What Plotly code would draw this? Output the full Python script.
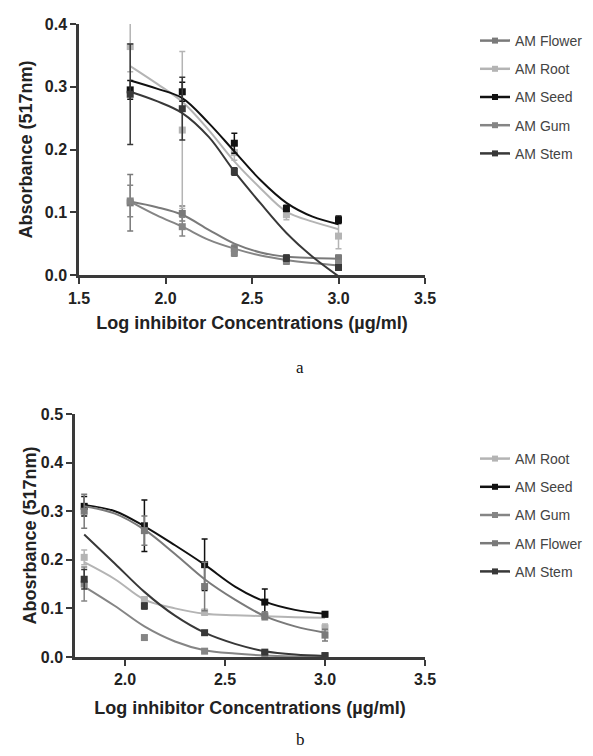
import plotly.graph_objects as go

# ---------------- data ----------------
conc_log = [1.796, 2.097, 2.398, 2.699, 3.0]
curve_x = [1.796, 1.95, 2.097, 2.25, 2.398, 2.55, 2.699, 2.85, 3.0]

x_ticks_a = [1.5, 2.0, 2.5, 3.0, 3.5]
y_ticks_a = [0.0, 0.1, 0.2, 0.3, 0.4]
x_ticks_b = [2.0, 2.5, 3.0, 3.5]
y_ticks_b = [0.0, 0.1, 0.2, 0.3, 0.4, 0.5]

# panel a (series order as in legend)
a_names = ["AM Flower", "AM Root", "AM Seed", "AM Gum", "AM Stem"]
a_flower_y = [0.115, 0.098, 0.042, 0.026, 0.027]
a_flower_err = [0.045, 0.012, 0.006, 0.005, 0.005]
a_root_y = [0.364, 0.231, 0.195, 0.096, 0.062]
a_root_err = [0.04, 0.125, 0.012, 0.008, 0.02]
a_seed_y = [0.295, 0.292, 0.21, 0.106, 0.088]
a_seed_err = [0.015, 0.015, 0.016, 0.005, 0.006]
a_gum_y = [0.118, 0.077, 0.035, 0.022, 0.018]
a_gum_err = [0.025, 0.015, 0.005, 0.005, 0.005]
a_stem_y = [0.288, 0.265, 0.165, 0.027, 0.012]
a_stem_err = [0.08, 0.05, 0.006, 0.005, 0.004]

a_flower_fit = [0.117, 0.108, 0.096, 0.072, 0.050, 0.036, 0.029, 0.027, 0.026]
a_root_fit = [0.333, 0.305, 0.276, 0.231, 0.181, 0.138, 0.101, 0.085, 0.073]
a_seed_fit = [0.310, 0.297, 0.282, 0.242, 0.197, 0.151, 0.115, 0.093, 0.081]
a_gum_fit = [0.117, 0.095, 0.077, 0.056, 0.042, 0.031, 0.024, 0.019, 0.015]
a_stem_fit = [0.292, 0.277, 0.258, 0.220, 0.165, 0.114, 0.067, 0.029, -0.002]

# panel b
b_names = ["AM Root", "AM Seed", "AM Gum", "AM Flower", "AM Stem"]
b_root_y = [0.205, 0.118, 0.092, 0.082, 0.06]
b_root_err = [0.015, 0.006, 0.006, 0.004, 0.008]
b_seed_y = [0.31, 0.27, 0.19, 0.113, 0.088]
b_seed_err = [0.02, 0.053, 0.053, 0.027, 0.005]
b_gum_y = [0.15, 0.04, 0.012, 0.005, 0.002]
b_gum_err = [0.035, 0.004, 0.003, 0.002, 0.002]
b_flower_y = [0.30, 0.26, 0.145, 0.085, 0.045]
b_flower_err = [0.035, 0.03, 0.05, 0.008, 0.012]
b_stem_y = [0.16, 0.105, 0.05, 0.01, 0.003]
b_stem_err = [0.02, 0.006, 0.004, 0.003, 0.002]

b_root_fit = [0.195, 0.16, 0.118, 0.100, 0.089, 0.086, 0.084, 0.082, 0.081]
b_seed_fit = [0.313, 0.30, 0.269, 0.23, 0.19, 0.145, 0.114, 0.097, 0.089]
b_gum_fit = [0.145, 0.105, 0.063, 0.032, 0.014, 0.007, 0.003, 0.001, 0.0]
b_flower_fit = [0.31, 0.295, 0.262, 0.212, 0.16, 0.118, 0.084, 0.063, 0.05]
b_stem_fit = [0.252, 0.192, 0.134, 0.085, 0.05, 0.027, 0.012, 0.005, 0.002]

# ---------------- styles ----------------
COL = {"AM Flower": "#7a7a7a", "AM Root": "#b4b4b4", "AM Seed": "#111111",
       "AM Gum": "#858585", "AM Stem": "#383838"}

W, H = 593, 756
OFF = 8  # page body margin in the rendered HTML
def px_x(p): return (p - OFF) / W
def px_y(p): return 1 - (p - OFF) / H

fig = go.Figure()

def add_series(name, ys, errs, fit, xa, ya, leg):
    c = COL[name]
    fig.add_trace(go.Scatter(x=curve_x, y=fit, mode="lines", line=dict(color=c, width=2, shape="spline"),
                             xaxis=xa, yaxis=ya, showlegend=False, hoverinfo="skip"))
    fig.add_trace(go.Scatter(x=conc_log, y=ys, mode="markers",
                             marker=dict(symbol="square", size=7, color=c),
                             error_y=dict(type="data", array=errs, visible=True, color=c, thickness=1.5, width=3),
                             xaxis=xa, yaxis=ya, showlegend=False, cliponaxis=False))
    fig.add_trace(go.Scatter(x=[None], y=[None], mode="lines+markers", name=name,
                             line=dict(color=c, width=2.5), marker=dict(symbol="square", size=6, color=c),
                             xaxis=xa, yaxis=ya, legend=leg, legendgroup=leg + name, showlegend=True))

a_data = [(a_flower_y, a_flower_err, a_flower_fit), (a_root_y, a_root_err, a_root_fit),
          (a_seed_y, a_seed_err, a_seed_fit), (a_gum_y, a_gum_err, a_gum_fit),
          (a_stem_y, a_stem_err, a_stem_fit)]
for n, (ys, es, ft) in zip(a_names, a_data):
    add_series(n, ys, es, ft, "x", "y", "legend")

b_data = [(b_root_y, b_root_err, b_root_fit), (b_seed_y, b_seed_err, b_seed_fit),
          (b_gum_y, b_gum_err, b_gum_fit), (b_flower_y, b_flower_err, b_flower_fit),
          (b_stem_y, b_stem_err, b_stem_fit)]
for n, (ys, es, ft) in zip(b_names, b_data):
    add_series(n, ys, es, ft, "x2", "y2", "legend2")

AX = "#3a3a3a"
tickfont = dict(family="Liberation Sans", size=16, color="#222", weight="bold")
titlefont = dict(family="Liberation Sans", size=18, color="#222", weight="bold")
common = dict(showline=True, linecolor=AX, linewidth=2.5, ticks="outside", tickcolor=AX,
              ticklen=6, tickwidth=2, showgrid=False, zeroline=False, tickfont=tickfont,
              automargin=False)
legfont = dict(family="Liberation Sans", size=14, color="#444")

fig.update_layout(
    width=W, height=H, margin=dict(l=0, r=0, t=0, b=0),
    paper_bgcolor="white", plot_bgcolor="white",
    xaxis=dict(domain=[px_x(79), px_x(425)], range=[1.5, 3.5], tickvals=x_ticks_a,
               ticktext=[f"{v:.1f}" for v in x_ticks_a], anchor="y", ticklabelstandoff=1,
               title=dict(text="Log inhibitor Concentrations (µg/ml)", font=titlefont, standoff=11), **common),
    yaxis=dict(domain=[px_y(275), px_y(24)], range=[0, 0.4], tickvals=y_ticks_a,
               ticktext=[f"{v:.1f}" for v in y_ticks_a], anchor="x",
               title=dict(text="Absorbance (517nm)", font=titlefont, standoff=8), **common),
    xaxis2=dict(domain=[px_x(75), px_x(425)], range=[1.75, 3.5], tickvals=x_ticks_b,
                ticktext=[f"{v:.1f}" for v in x_ticks_b], anchor="y2", ticklabelstandoff=0,
                title=dict(text="Log inhibitor Concentrations (µg/ml)", font=titlefont, standoff=15), **common),
    yaxis2=dict(domain=[px_y(657), px_y(414)], range=[0, 0.5], tickvals=y_ticks_b,
                ticktext=[f"{v:.1f}" for v in y_ticks_b], anchor="x2",
                title=dict(text="Abosrbance (517nm)", font=titlefont, standoff=0), **common),
    legend=dict(x=px_x(475), y=px_y(25), xanchor="left", yanchor="top", tracegroupgap=7,
                font=legfont, bgcolor="rgba(0,0,0,0)"),
    legend2=dict(x=px_x(475), y=px_y(443), xanchor="left", yanchor="top", tracegroupgap=7,
                 font=legfont, bgcolor="rgba(0,0,0,0)"),
    annotations=[
        dict(text="a", x=px_x(300), y=px_y(367), xref="paper", yref="paper", showarrow=False,
             font=dict(family="Liberation Serif", size=17, color="#111")),
        dict(text="b", x=px_x(300), y=px_y(751), xref="paper", yref="paper", showarrow=False,
             font=dict(family="Liberation Serif", size=17, color="#111")),
    ],
)

fig.write_html("out.html")
